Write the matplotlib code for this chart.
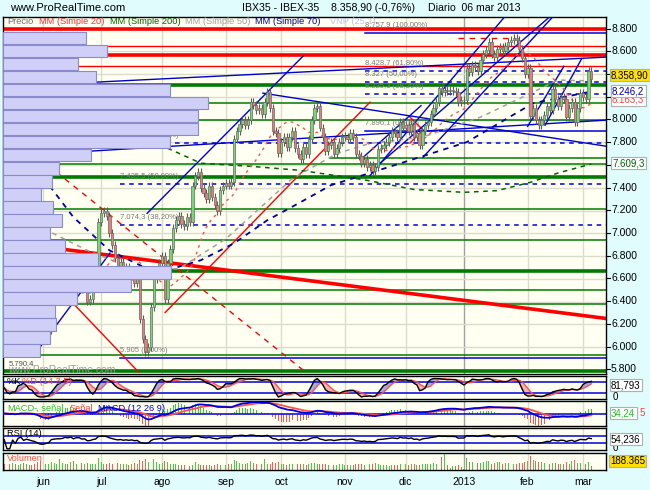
import numpy as np
import pandas as pd
import matplotlib
matplotlib.use("Agg")
import matplotlib.pyplot as plt

plt.rcParams["font.family"] = ["Liberation Sans", "DejaVu Sans"]

# cierres diarios IBEX-35, 14 may 2012 -> 06 mar 2013
close = [
    # may
    6580, 6520, 6470, 6560, 6450, 6620, 6700, 6520, 6600, 6550, 6480, 6420, 6280, 6070,
    # jun
    6060, 6100, 6150, 6420, 6480, 6520, 6520, 6560, 6700, 6650, 6780, 6600, 6760, 6770,
    6620, 6650, 6400, 6420, 6550, 6620, 7100,
    # jul
    7180, 7200, 7150, 7000, 6900, 6780, 6700, 6750, 6640, 6700, 6620, 6680, 6560, 6600,
    6250, 6070, 5960, 6000, 6350, 6600, 6650, 6740,
    # ago
    6800, 6420, 6740, 6860, 7050, 7120, 7150, 7080, 7060, 7140, 7100, 7420, 7500, 7540,
    7400, 7350, 7300, 7420, 7320, 7250, 7200, 7380, 7420,
    # sep
    7440, 7420, 7450, 7830, 7900, 7960, 8000, 7950, 8000, 8150, 8130, 8080, 8100, 8050,
    8150, 8240, 8100, 7900, 7880, 7710,
    # oct
    7800, 7850, 7760, 7850, 7900, 7750, 7700, 7650, 7760, 7700, 7830, 8000, 8100, 8120,
    7930, 7850, 7720, 7780, 7800, 7700, 7750, 7800, 7850,
    # nov
    7850, 7830, 7880, 7850, 7700, 7680, 7620, 7650, 7580, 7600, 7550, 7580, 7740, 7750,
    7780, 7800, 7850, 7900, 7880, 7850, 7980, 7930,
    # dic
    7950, 7900, 7960, 7850, 7880, 7780, 7900, 7950, 7980, 8050, 8100, 8150, 8280, 8240,
    8260, 8250, 8250, 8250, 8240, 8150, 8170,
    # ene
    8170, 8450, 8420, 8480, 8460, 8430, 8520, 8580, 8610, 8680, 8580, 8550, 8620, 8640,
    8600, 8650, 8680, 8700, 8720, 8700, 8620, 8540, 8400,
    # feb
    8450, 8030, 8100, 8000, 7950, 8000, 8040, 8120, 8080, 8270, 8180, 8120, 8200, 8180,
    8020, 8100, 8150, 7980, 8100, 8230,
    # mar
    8200, 8180, 8423, 8358.9,
]

# volumen (miles)
volume = [
    260, 310, 280, 340, 300, 250, 280, 320, 260, 240, 230, 300, 350, 420,
    380, 300, 280, 360, 310, 280, 520, 330, 300, 280, 350, 420, 300, 280, 330, 260, 340,
    290, 270, 300, 560,
    380, 300, 260, 320, 300, 280, 310, 260, 300, 270, 250, 280, 320, 300, 480, 420, 500,
    380, 460, 520, 350, 300,
    330, 420, 380, 280, 300, 260, 240, 230, 220, 260, 200, 230, 350, 280, 250, 240, 230,
    210, 200, 240, 260, 230, 300,
    250, 260, 280, 460, 400, 320, 300, 280, 310, 420, 330, 280, 300, 270, 500, 280, 300,
    380, 330, 360,
    280, 260, 250, 300, 270, 240, 260, 280, 300, 250, 260, 340, 320, 300, 280, 260, 300,
    250, 240, 230, 220, 260, 270,
    240, 230, 220, 250, 300, 270, 260, 230, 280, 300, 290, 320, 260, 240, 230, 220, 200,
    240, 250, 230, 300, 280,
    260, 230, 280, 300, 250, 240, 270, 300, 260, 280, 320, 300, 520, 600, 750, 220, 80,
    180, 200, 230, 150,
    60, 550, 380, 350, 300, 320, 340, 380, 400, 430, 300, 320, 350, 380, 300, 320, 340,
    300, 280, 300, 320, 330, 380,
    400, 650, 480, 420, 380, 350, 320, 300, 280, 330, 310, 260, 280, 300, 380, 300, 400,
    450, 330, 320,
    350, 300, 380, 188.365,
]

month_names = ["jun", "jul", "ago", "sep", "oct", "nov", "dic", "2013", "feb", "mar"]

# medias moviles largas (sesion, valor)
mm200_x = [0, 28, 59, 71, 89, 107, 130, 148, 166, 178, 190, 200, 212]
mm200_y = [8276, 7994, 7748, 7616, 7589, 7553, 7470, 7385, 7360, 7375, 7448, 7530, 7609.3]
mm70_x = [0, 3, 25, 38, 55, 71, 83, 95, 107, 118, 133, 167, 191, 212]
mm70_y = [7950, 7845, 7141, 6850, 6648, 6763, 6912, 7115, 7273, 7423, 7537, 7801, 8144, 8246.2]
mm50_x = [0, 15, 30, 45, 63, 80, 104, 120, 132, 151, 172, 200, 212]
mm50_y = [7581, 7030, 6850, 6700, 6688, 6950, 7480, 7700, 7790, 7845, 8021, 8347, 8340]

# perfil de volumen por niveles de precio (de arriba abajo)
vp_top = 8775
vp_step = 114.5
vp_vol = [83, 104, 75, 93, 167, 205, 195, 195, 167, 88, 56, 49, 38, 50, 59, 47, 62, 95,
          168, 128, 74, 52, 53, 47, 37]

# soportes / resistencias: (nivel, sesion de inicio)
green_levels = [(8300, 0), (8148, 0), (8000, 0), (7662, 117.6), (7609.3, 0), (7495, 0),
                (7212.5, 0), (6944, 0), (6668, 0), (6504, 8.6), (6381, 0), (5934, 0),
                (5790.4, 0)]
green_thick = [8300, 7495, 6668, 5790.4]
red_levels = [8800, 8650, 8563.6, 8475]
red_thick = [8800, 8563.6]
left_labels = ["8.563,6", "8.300", "8.148", "8.000", "7.212,5", "5.790,4"]
left_label_y = [8563.6, 8300, 8148, 8000, 7212.5, 5790.4]

# fibonacci: (minimo, maximo, sesion de inicio)
fib_a = (5905, 8966, 41.8)
fib_b = (7896.1, 8757.9, 130.3)

# lineas de tendencia: (x0, y0, x1, y1)
red_trend_thick = (0, 6925, 217, 6252)
red_solid = [(0, 7020, 48.5, 5780), (58.1, 6303, 132.1, 8153),
             (146.5, 8022, 151.2, 7908), (151.2, 7908, 146.5, 7793)]
red_dashed = [(0, 7906, 109.4, 5768), (164.0, 8719, 184.5, 8719)]
blue_trends = [
    (25.6, 8320, 217.5, 8549),
    (93.4, 8232, 217.5, 7765),
    (31.0, 7722, 217.5, 7995),
    (12.9, 5998, 38.2, 6826),
    (51.6, 7175, 108.0, 8560),
    (132.1, 7508, 180.8, 8906),
    (129.6, 7668, 150.5, 8122),
    (135.7, 7615, 197.1, 8906),
    (151.2, 7668, 198.2, 8906),
    (189.0, 7940, 202.1, 8468),
    (195.3, 7950, 208.4, 8530),
]

n = len(close)
c = pd.Series(close, dtype=float)
o = c.shift(1).fillna(c.iloc[0] + 30)
x = np.arange(n)
dates = pd.bdate_range("2012-05-14", periods=n)
s = pd.Series(dates)
first = s.groupby(s.dt.to_period("M")).idxmin().values[1:]
first = [int(i) for i in first][:len(month_names)]

# indicadores
mm20 = c.rolling(20, min_periods=1).mean()
hh = c.rolling(14, min_periods=1).max()
ll = c.rolling(14, min_periods=1).min()
fast = (100 * (c - ll) / (hh - ll).replace(0, np.nan)).fillna(50)
pk = fast.rolling(3, min_periods=1).mean()
pd_ = pk.rolling(5, min_periods=1).mean()
macd = c.ewm(span=12, adjust=False).mean() - c.ewm(span=26, adjust=False).mean()
signal = macd.ewm(span=9, adjust=False).mean()
hist = macd - signal
delta = c.diff().fillna(0)
up = delta.clip(lower=0).ewm(alpha=1 / 14, adjust=True).mean()
dn = (-delta.clip(upper=0)).ewm(alpha=1 / 14, adjust=True).mean()
rsi = (100 - 100 / (1 + up / dn.replace(0, np.nan))).fillna(50)

# ---------------------------------------------------------------- figura
W, H = 650, 490
BG = "#e0fcfc"
PANEL = "#fffff2"
GRID = "#dcdccc"
fig = plt.figure(figsize=(W / 100, H / 100), dpi=100, facecolor=BG)
L, R = 3, 606
XLIM = (-0.44, 217.3)


def add_panel(top, bottom):
    a = fig.add_axes([L / W, 1 - bottom / H, (R - L) / W, (bottom - top) / H])
    a.set_facecolor(PANEL)
    a.set_xlim(*XLIM)
    for sp in a.spines.values():
        sp.set_color("black")
        sp.set_linewidth(1)
    a.set_xticks([])
    a.set_yticks([])
    for i, m in zip(first, month_names):
        a.axvline(i, color="#a0a0a0" if m == "2013" else GRID, lw=1, zorder=0.5)
    return a


def ftxt(px, py, t, color="black", size=7, ha="left", va="center", **kw):
    return fig.text(px / W, 1 - py / H, t, color=color, fontsize=size, ha=ha, va=va, **kw)


def fmt(v, dec=0):
    s_ = f"{v:,.{dec}f}"
    return s_.replace(",", "X").replace(".", ",").replace("X", ".")


ax = add_panel(16.5, 373.5)
ax.set_ylim(5767, 8906)
for lv in range(5800, 8900, 200):
    ax.axhline(lv, color=GRID, lw=1, zorder=0.5)

# perfil de volumen
vp = ax.twiny()
vp.set_xlim(0, R - L)
vp.axis("off")
centers = [vp_top - (k + 0.5) * vp_step for k in range(len(vp_vol))]
vp.barh(centers, vp_vol, height=vp_step * 0.98, left=0, color="#cfcff7",
        edgecolor="#8a8ace", lw=0.8, zorder=1)

# niveles horizontales
for lv, x0 in green_levels:
    ax.plot([x0, XLIM[1]], [lv, lv], color="#007a00",
            lw=2.6 if lv in green_thick else 1.1, zorder=2)
for lv in red_levels:
    ax.axhline(lv, color="#ff0000", lw=2.6 if lv in red_thick else 1.0, zorder=2)

# fibonacci
for lo, hi, x0 in (fib_a, fib_b):
    for pct in (0.0, 0.382, 0.5, 0.618, 1.0):
        lvl = lo + pct * (hi - lo)
        if lvl > 8906:
            continue
        solid = pct in (0.0, 1.0)
        ax.plot([x0, XLIM[1]], [lvl, lvl], color="#0000dd", lw=1.1,
                ls="-" if solid else (0, (3, 3)), zorder=2.5)
        ax.text(x0, lvl + 35, f"{fmt(lvl, 1 if abs(lvl - round(lvl)) > 0.05 else 0)} "
                f"({fmt(pct * 100, 2)}%)", fontsize=5.5, color="#7a7a7a",
                ha="left", va="bottom", zorder=6)

# lineas de tendencia
ax.plot(red_trend_thick[::2], red_trend_thick[1::2], color="#ff0000", lw=2.6, zorder=3)
for t in red_solid:
    ax.plot(t[::2], t[1::2], color="#ff0000", lw=1.0, zorder=3)
for t in red_dashed:
    ax.plot(t[::2], t[1::2], color="#ff0000", lw=1.0, ls=(0, (4, 4)), zorder=3)
for t in blue_trends:
    ax.plot(t[::2], t[1::2], color="#0000cc", lw=1.0, zorder=3)

# medias moviles
ax.plot(mm200_x, mm200_y, color="#006400", lw=1.1, ls=(0, (3, 3)), zorder=3)
ax.plot(mm70_x, mm70_y, color="#000099", lw=1.3, ls=(0, (3, 3)), zorder=3)
ax.plot(mm50_x, mm50_y, color="#a0a0a0", lw=1.1, ls=(0, (3, 3)), zorder=3)
ax.plot(x, mm20, color="#ff5050", lw=1.0, ls=(0, (2, 3)), zorder=3)

# velas
upc = (c >= o).values
body_lo = np.minimum(o, c)
body_h = np.abs(c - o).clip(lower=6)
ax.vlines(x, body_lo - 35, body_lo + body_h + 35, color="#5a5a5a", lw=0.8, zorder=4)
ax.bar(x, body_h, bottom=body_lo, width=0.85,
       color=np.where(upc, "#70dc70", "#ec7c7c"), edgecolor="#6a6a6a", lw=0.5, zorder=5)

ax.text(1.5, 5800, "www.ProRealTime.com", fontsize=7.5, color="#9a9a9a", ha="left",
        va="center", zorder=6)
for t, v in zip(left_labels, left_label_y):
    ax.text(1.5, v + 30, t, fontsize=5.5, color="#505050", ha="left", va="bottom", zorder=6)

# eje de precios a la derecha
hidden = {8400, 8200, 7600}
for lv in range(5800, 8900, 200):
    y = 33.3 + (8757.9 - lv) * 0.11357
    fig.lines.append(plt.Line2D([R / W, (R + 4) / W], [1 - y / H] * 2, color="black",
                                lw=0.8, transform=fig.transFigure))
    if lv not in hidden:
        ftxt(611, y, fmt(lv), size=7.5)

box = dict(boxstyle="square,pad=0.15", fc="white", ec="#b0b0b0", lw=0.8)
ybox = dict(boxstyle="square,pad=0.15", fc="#ffe000", ec="#b0b0b0", lw=0.8)
ftxt(612, 100, "8.163,3", color="#ff4040", size=7, bbox=box)
ftxt(612, 91, "8.246,2", color="#000099", size=7, bbox=box)
ftxt(611, 75, "8.358,90", color="black", size=7, bbox=ybox)
ftxt(612, 163, "7.609,3", color="#006400", size=7, bbox=box)

# leyenda principal
for px_, t, col in [(7, "Precio", "#707070"), (39, "MM (Simple 20)", "#ff3030"),
                    (110, "MM (Simple 200)", "#006400"), (185, "MM (Simple 50)", "#a0a0a0"),
                    (255, "MM (Simple 70)", "#000099"), (330, "VNP (25 1)", "#c0c0f0")]:
    ftxt(px_, 22, t, color=col, size=6.7)

# cabecera
ftxt(10, 8, "www.ProRealTime.com", size=8)
ftxt(242, 8, "IBX35 - IBEX-35", size=7.6)
ftxt(331, 8, "8.358,90 (-0,76%)", size=7.6)
ftxt(428, 8, "Diario  06 mar 2013", size=7.6)

# ------------------------------------------------ estocastico
a1 = add_panel(376, 399)
a1.set_ylim(-11, 114)
for lv in (20, 80):
    a1.axhline(lv, color="#0000dd", lw=1.1, zorder=2)
a1.fill_between(x, pk, pd_, where=pk >= pd_, color="#a8a8e0", lw=0, zorder=1, interpolate=True)
a1.fill_between(x, pk, pd_, where=pk < pd_, color="#f4b0b0", lw=0, zorder=1, interpolate=True)
a1.plot(x, pd_, color="#ff5050", lw=1.0, zorder=3)
a1.plot(x, pk, color="black", lw=1.0, zorder=3)
ftxt(7, 381, "%K", size=6.7)
ftxt(22, 381, "%D (14 3 5)", color="#ff4040", size=6.7)
ftxt(611, 385, "81,793", size=7, bbox=box)
ftxt(613, 397, "0", size=7)

# ------------------------------------------------ MACD
a2 = add_panel(401, 426)
lim = max(abs(macd).max(), abs(signal).max()) * 1.1
a2.set_ylim(-lim, lim)
a2.axhline(0, color="#0000dd", lw=1.1, zorder=2)
a2.bar(x, hist * 3, width=0.35, color=np.where(hist >= 0, "#33cc33", "#ff5050"), zorder=1)
a2.plot(x, signal, color="#ff5050", lw=1.3, zorder=3)
a2.plot(x, macd, color="#0000dd", lw=1.3, zorder=3)
ftxt(7, 408, "MACD-", color="#33bb33", size=6.7)
ftxt(36, 408, ", señal", color="#33bb33", size=6.7)
ftxt(70, 408, "Señal", color="#ff4040", size=6.7)
ftxt(98, 408, "MACD (12 26 9)", color="#0000dd", size=6.7)
ftxt(611, 413, "34,24", color="#22bb22", size=7, bbox=box)
ftxt(640, 413, "5", color="#ff4040", size=7)

# ------------------------------------------------ RSI
a3 = add_panel(428, 450)
a3.set_ylim(-6.6, 113.7)
for lv in (30, 70):
    a3.axhline(lv, color="#0000dd", lw=1.1, zorder=2)
a3.plot(x, rsi, color="black", lw=1.0, zorder=3)
ftxt(7, 433, "RSI (14)", size=6.7)
ftxt(613, 448, "0", size=7)
ftxt(611, 439, "54,236", size=7, bbox=box)

# ------------------------------------------------ volumen
a4 = add_panel(453, 470)
vol = np.array(volume, dtype=float)
a4.set_ylim(0, vol.max() * 1.05)
a4.bar(x, vol, width=0.35, color=np.where(upc, "#44cc44", "#ff5a5a"), zorder=2)
ftxt(7, 458, "Volumen", color="#ff5050", size=6.7)
ftxt(610, 461, "188.365", size=7, bbox=ybox)

# meses
for i, m in zip(first, month_names):
    px_ = L + (i - XLIM[0]) / (XLIM[1] - XLIM[0]) * (R - L)
    ftxt(px_, 482, m, size=7.5, ha="center")

fig.savefig("out.png", dpi=100, facecolor=BG)
